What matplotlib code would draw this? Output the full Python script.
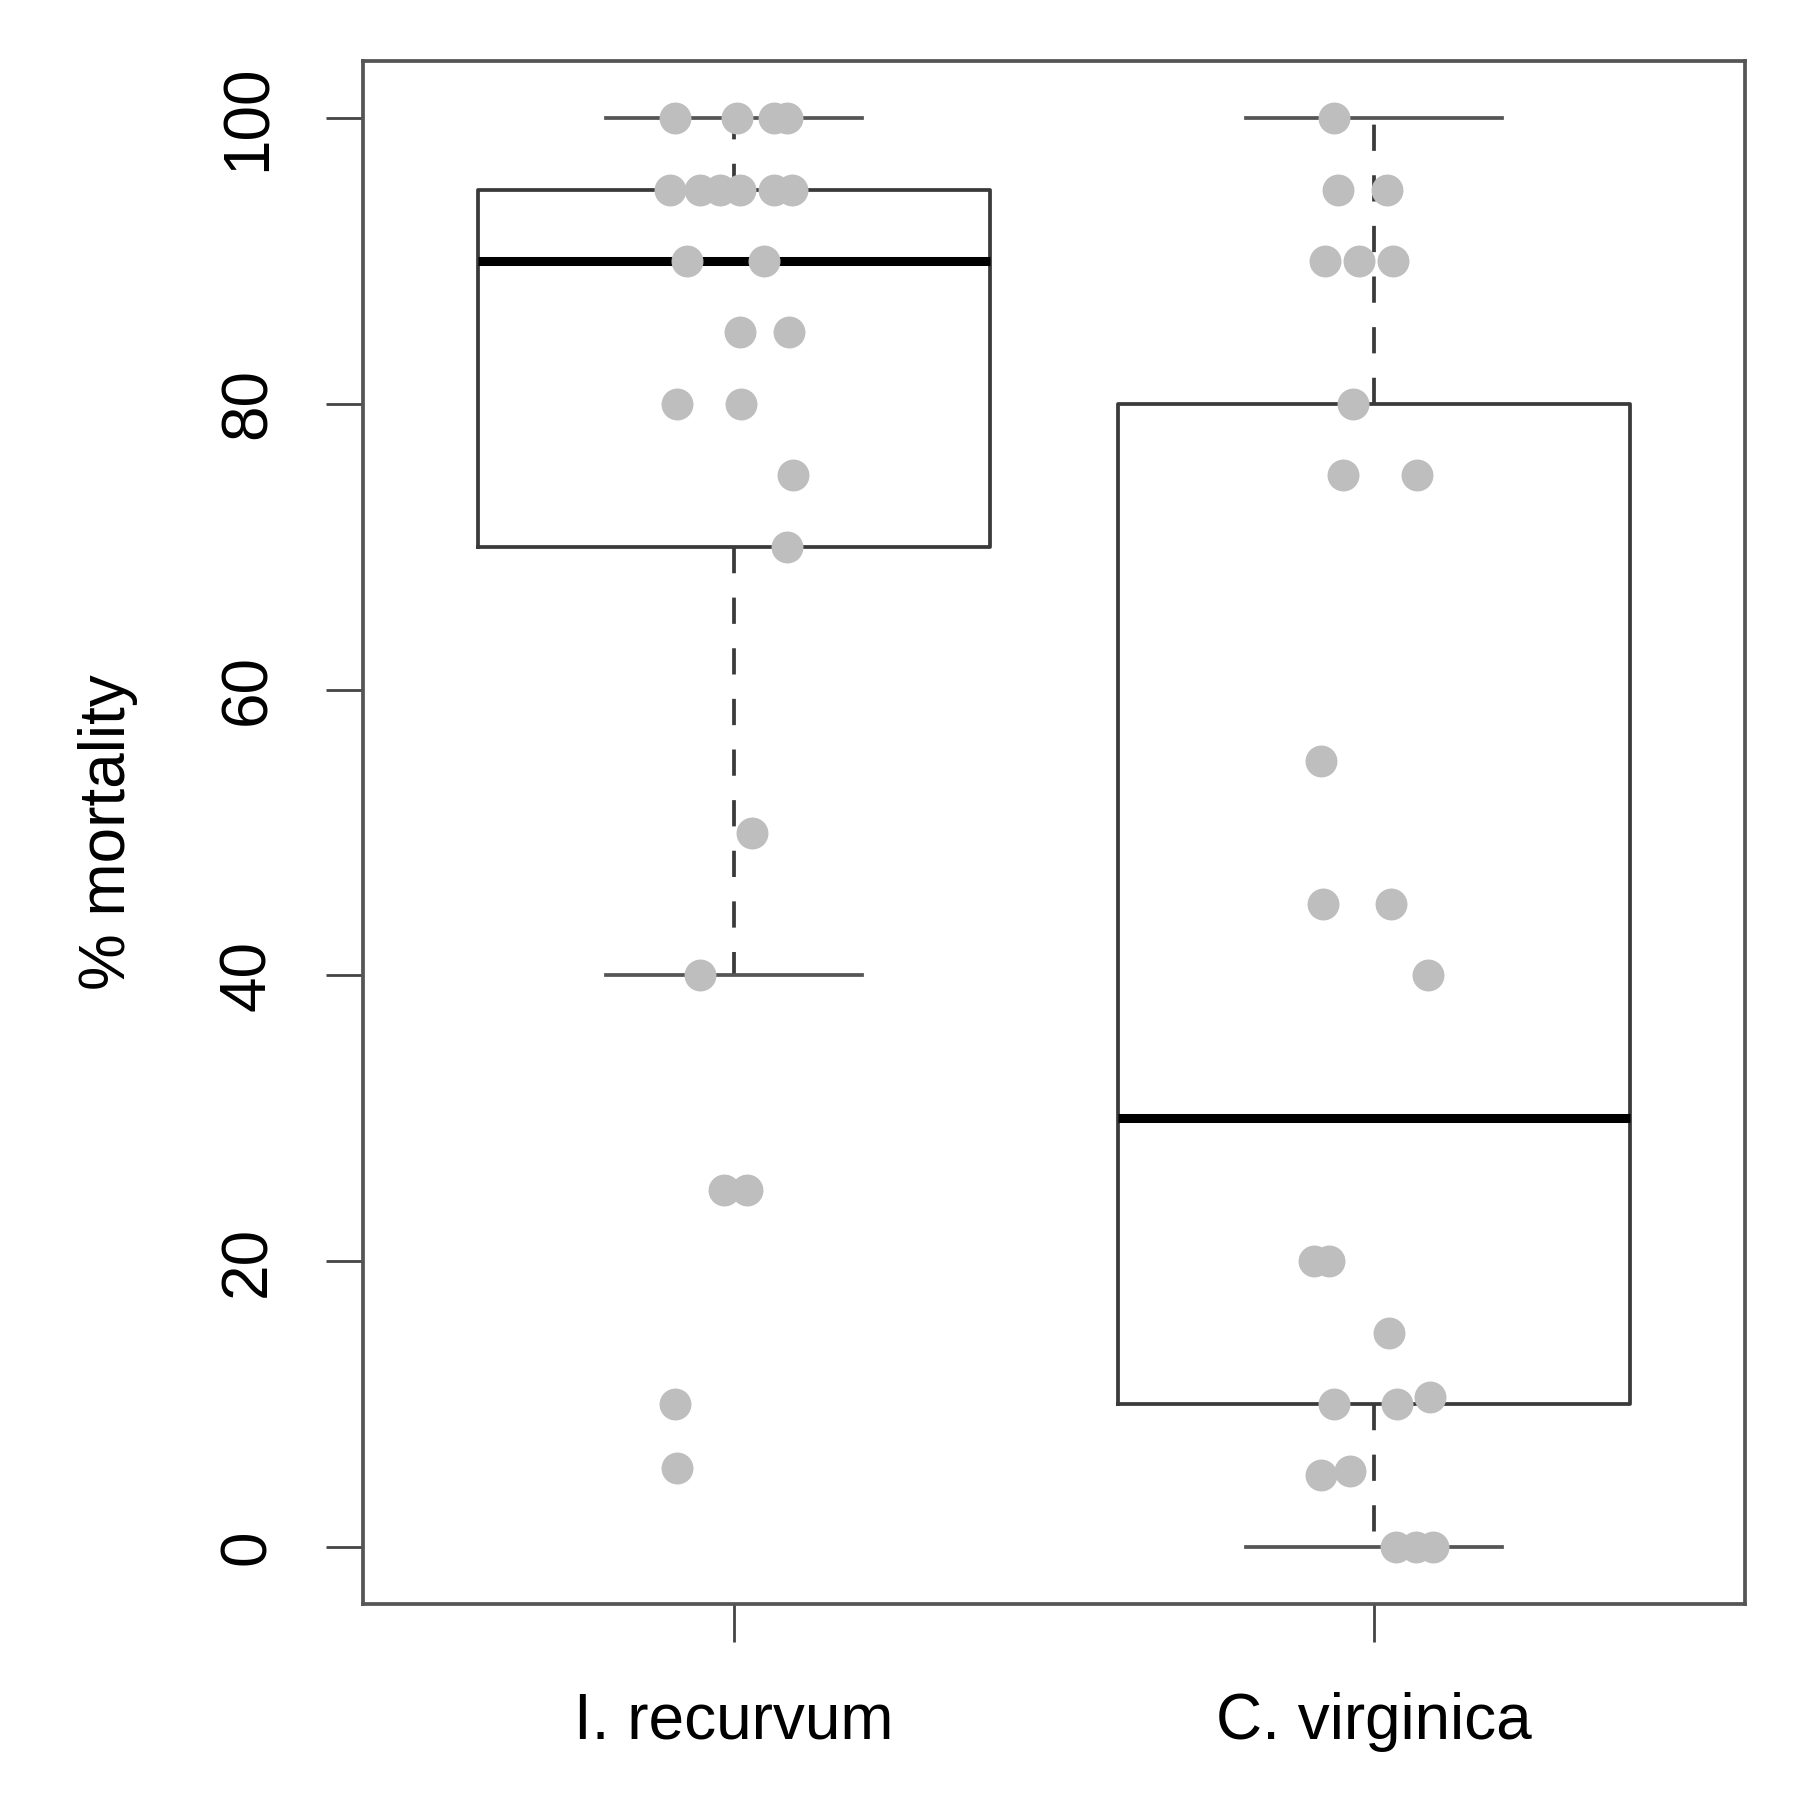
import matplotlib.pyplot as plt
import numpy as np

plt.rcParams['font.family'] = ['Liberation Sans', 'DejaVu Sans']

species = ["I. recurvum", "C. virginica"]

# box summaries
whislo = [40, 0]
q1 = [70, 10]
med = [90, 30]
q3 = [95, 80]
whishi = [100, 100]

# individual observations (% mortality) and their horizontal jitter
recurvum_vals = [100, 100, 100, 100,
                 95, 95, 95, 95, 95, 95,
                 90, 90, 85, 85, 80, 80, 75, 70, 50, 40,
                 25, 25, 10, 5.5]
recurvum_jit = [-0.092, 0.005, 0.062, 0.082,
                -0.101, -0.053, -0.022, 0.009, 0.062, 0.090,
                -0.073, 0.047, 0.009, 0.085, -0.090, 0.011, 0.092, 0.082, 0.028, -0.053,
                -0.016, 0.020, -0.093, -0.089]

virginica_vals = [100, 95, 95, 90, 90, 90, 80, 75, 75,
                  55, 45, 45, 40, 20, 20, 15,
                  10, 10, 10.5, 5, 5.3, 0, 0, 0]
virginica_jit = [-0.062, -0.056, 0.020, -0.077, -0.024, 0.030, -0.032, -0.049, 0.068,
                 -0.083, -0.080, 0.027, 0.085, -0.093, -0.071, 0.024,
                 -0.063, 0.036, 0.088, -0.083, -0.038, 0.035, 0.065, 0.092]

fig = plt.figure(figsize=(18.2, 17.94), dpi=100)
ax = fig.add_axes([0.1995, 0.1059, 0.7593, 0.8601])

stats = []
for i in range(2):
    stats.append(dict(whislo=whislo[i], q1=q1[i], med=med[i], q3=q3[i],
                      whishi=whishi[i], fliers=[], label=species[i]))

line_col = "#3a3a3a"
ax.bxp(stats, positions=[1, 2], widths=0.8, capwidths=0.4, showfliers=False,
       boxprops=dict(color=line_col, linewidth=2.7),
       whiskerprops=dict(color=line_col, linewidth=2.7, linestyle=(0, (7, 6.5))),
       capprops=dict(color="#555555", linewidth=2.7),
       medianprops=dict(color="black", linewidth=6.5, solid_capstyle="butt"))

pt_col = "#bebebe"
ax.plot(1 + np.array(recurvum_jit), recurvum_vals, "o", color=pt_col,
        markersize=23, markeredgewidth=0, zorder=5)
ax.plot(2 + np.array(virginica_jit), virginica_vals, "o", color=pt_col,
        markersize=23, markeredgewidth=0, zorder=5)

ax.set_xlim(0.42, 2.58)
ax.set_ylim(-4, 104)
ax.set_xticks([1, 2])
ax.set_xticklabels(species)
ax.set_yticks([0, 20, 40, 60, 80, 100])
ax.set_yticklabels(["0", "20", "40", "60", "80", "100"], rotation=90, va="center")

ax.tick_params(axis="both", direction="out", length=27, width=2, color="#444444",
               labelsize=46)
ax.tick_params(axis="y", pad=34)
ax.tick_params(axis="x", pad=36)

for s in ax.spines.values():
    s.set_linewidth(2.7)
    s.set_color("#555555")

ax.set_ylabel("% mortality", fontsize=46)
ax.yaxis.set_label_coords(-0.163, 0.5)

fig.savefig("out.png", dpi=100)
